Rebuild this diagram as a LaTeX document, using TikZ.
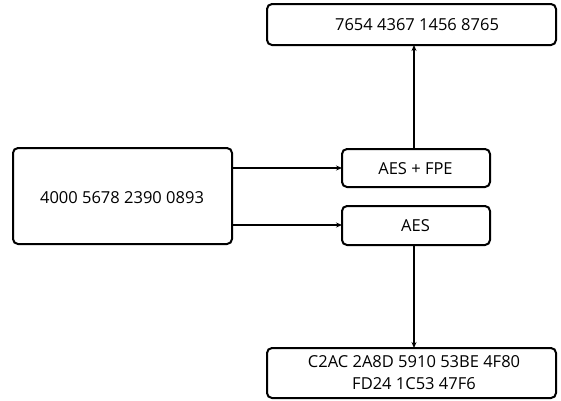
\documentclass[tikz,border=0pt]{standalone}
\usepackage{fontspec}
\setmainfont{Open Sans}
\usetikzlibrary{arrows.meta}
\begin{document}
\begin{tikzpicture}[x=1pt,y=-1pt,
  box/.style={draw,line width=2pt,rounded corners=5pt},
  lbl/.style={font=\fontsize{16.5}{22}\selectfont,align=center,inner sep=0pt},
  conn/.style={line width=1.1pt,-{Stealth[length=6pt,width=5pt]}}]
\useasboundingbox (0,0) rectangle (561,400);
\draw[box] (267,4) rectangle (556,45);
\node[lbl] (top) at (417,25) {7654 4367 1456 8765};
\coordinate (topB) at (414,45);
\draw[box] (13,148) rectangle (232,244);
\node[lbl] (in) at (122,198) {4000 5678 2390 0893};
\draw[box] (342,149) rectangle (490,187);
\node[lbl] (fpe) at (415.5,169) {AES + FPE};
\draw[box] (342,206) rectangle (490,245);
\node[lbl] (aes) at (415.5,226) {AES};
\draw[box] (267,348) rectangle (556,398);
\node[lbl] (out) at (414,373) {C2AC 2A8D 5910 53BE 4F80\\FD24 1C53 47F6};
\coordinate (inA) at (232,168);
\coordinate (inB) at (232,225);
\coordinate (fpeL) at (342,168);
\coordinate (aesL) at (342,225);
\coordinate (fpeT) at (414,149);
\coordinate (aesB) at (414,245);
\coordinate (outT) at (414,348);
\draw[conn] (inA) -- (fpeL);
\draw[conn] (inB) -- (aesL);
\draw[conn] (fpeT) -- (topB);
\draw[conn] (aesB) -- (outT);
\end{tikzpicture}
\end{document}
